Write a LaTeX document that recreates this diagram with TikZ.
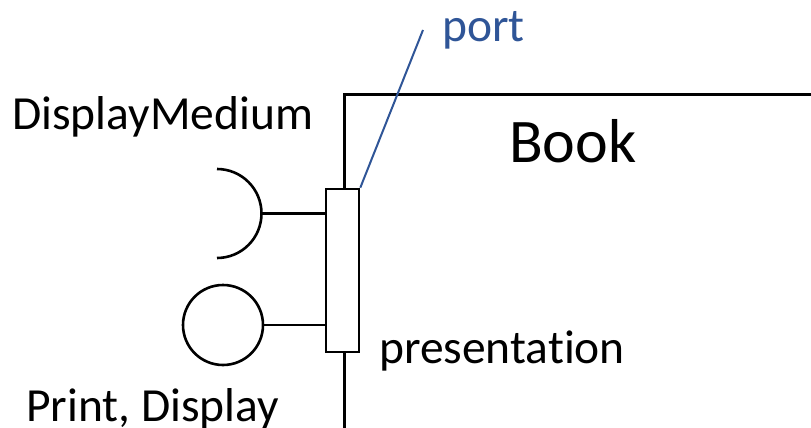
\documentclass[tikz,border=0pt]{standalone}
\usepackage{fontspec}
\setmainfont{Carlito}[Ligatures={NoCommon}]
\definecolor{portblue}{RGB}{47,85,151}
\begin{document}
\begin{tikzpicture}[x=1pt,y=-1pt,
  ln/.style={line width=2.6pt, black},
  lbl/.style={inner sep=0pt, anchor=base west, font=\fontsize{47.5}{56}\selectfont},
  biglbl/.style={inner sep=0pt, anchor=base west, font=\fontsize{62}{72}\selectfont}]
\useasboundingbox (0,0) rectangle (811,428);
\clip (0,0) rectangle (811,428);
% Book component
\node[ln, draw, rectangle, inner sep=0pt, minimum width=600pt, minimum height=500pt, anchor=north west] (book) at (343,93) {};
\node[biglbl] (booklbl) at (509,162) {Book};
% port
\node[ln, draw, fill=white, rectangle, inner sep=0pt, minimum width=33pt, minimum height=163pt] (port) at (342.5,270.5) {};
\node[lbl] (presentation) at (379,363) {presentation};
% port callout
\coordinate (callout) at (423,30);
\draw[portblue, line width=2pt] (port.north east) -- (callout);
\node[lbl, text=portblue] (portlbl) at (442,42) {port};
% required interface (socket)
\coordinate (sockettip) at (261.5,213.5);
\draw[ln] (217,169) arc[start angle=-90, end angle=90, radius=44.5];
\draw[ln] (sockettip) -- (port.west |- sockettip);
\node[lbl] (dm) at (12,129) {DisplayMedium};
% provided interface (lollipop)
\node[ln, draw, circle, inner sep=0pt, minimum size=80pt] (ball) at (223,325) {};
\draw[ln] (ball.east) -- (port.west |- ball.east);
\node[lbl] (pd) at (26,421) {Print, Display};
\end{tikzpicture}
\end{document}
